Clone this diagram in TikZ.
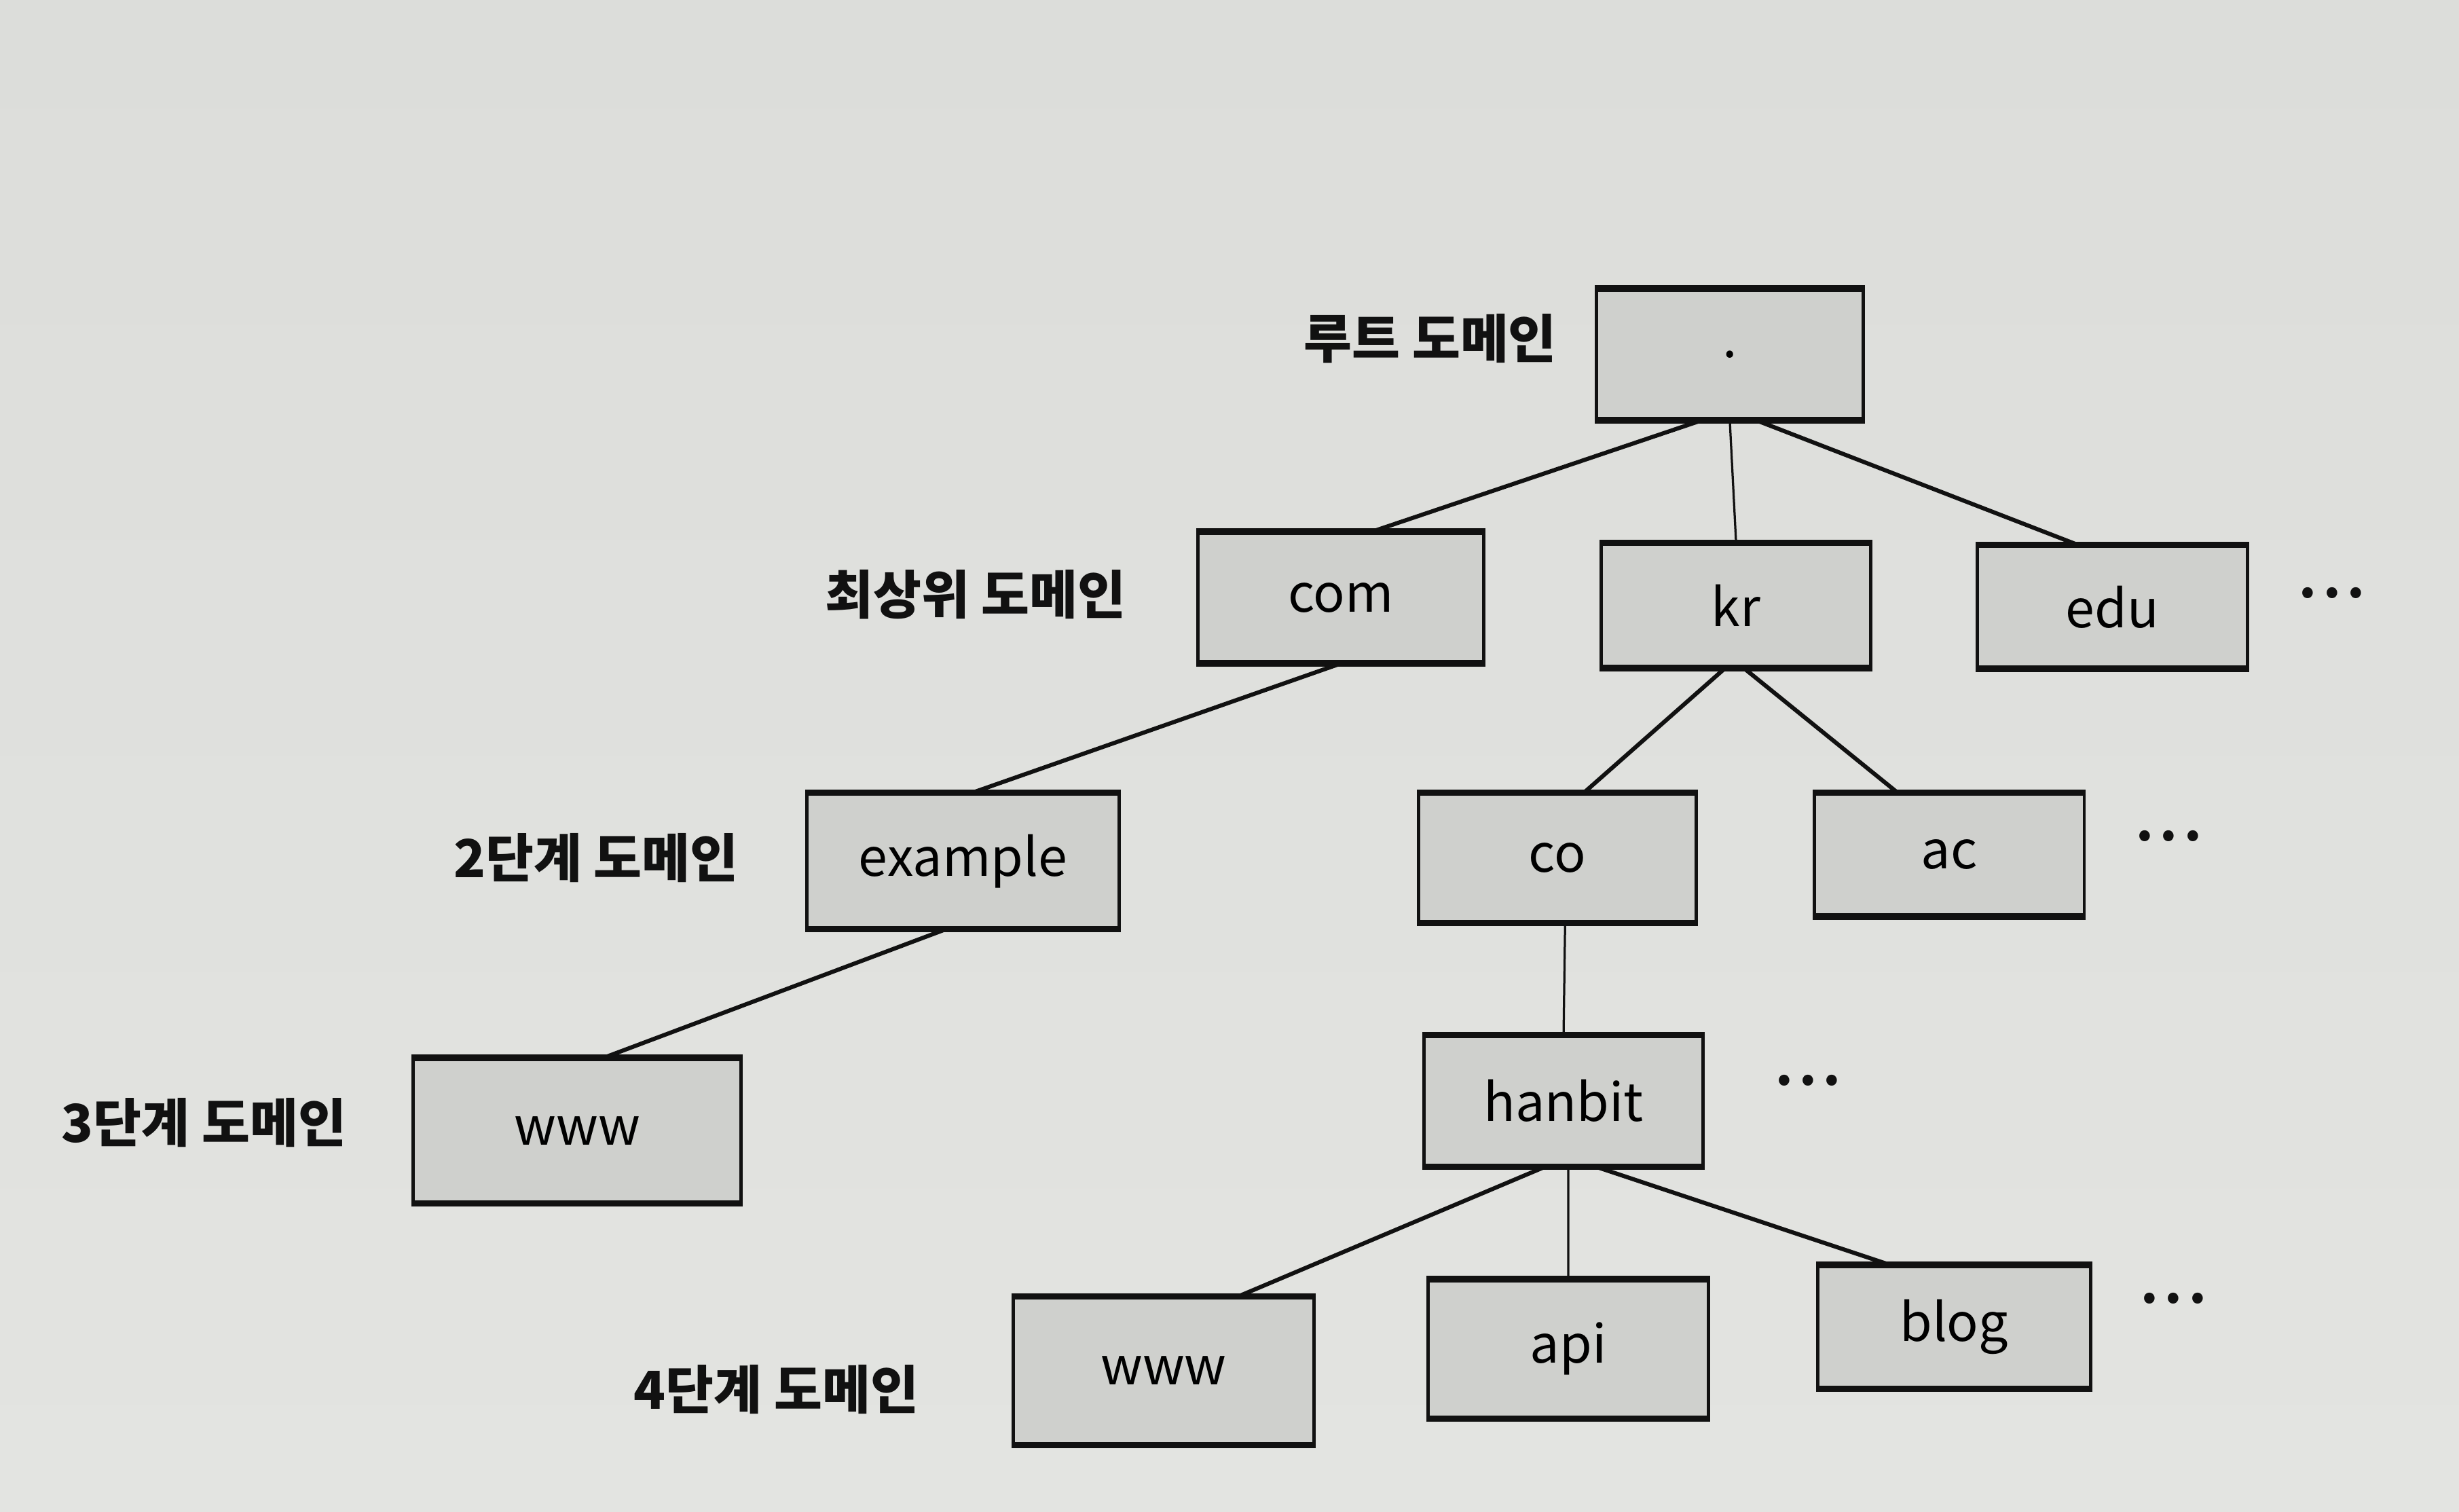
\documentclass[tikz,border=0pt]{standalone}
\usepackage{fontspec}
\setmainfont{Noto Sans CJK KR}
\usepackage{xcolor}
\definecolor{cPaper}{HTML}{E3E4E1}
\definecolor{cPaperTop}{HTML}{DCDDDA}
\definecolor{cBox}{HTML}{CFD0CD}
\definecolor{cInk}{HTML}{111111}
\usetikzlibrary{positioning,calc}
\tikzset{
  node-box/.style={draw=cInk,line width=0.6pt,fill=cBox,inner sep=0pt,
    align=center,font=\fontsize{9.5}{11}\selectfont},
  node-level/.style={font=\fontsize{9.5}{11}\selectfont\bfseries,text=cInk},
  node-more/.style={font=\fontsize{9}{11}\selectfont\bfseries,text=cInk},
  link/.style={draw=cInk,line width=0.75pt},
  link-thin/.style={draw=cInk,line width=0.4pt},
}
\newcommand{\moredots}{.\hspace{1.2pt}.\hspace{1.2pt}.}

\begin{document}
\begin{tikzpicture}
  % page
  \shade[top color=cPaperTop,bottom color=cPaper] (0,0) rectangle (15.68,9.64);
  \useasboundingbox (0,0) rectangle (15.68,9.64);

  % boxes
  \node[node-box,minimum width=17mm,minimum height=8.2mm] (root) at (11.03,7.38) {.};
  \node[node-box,minimum width=18.2mm,minimum height=8.2mm] (com) at (8.55,5.83) {com};
  \node[node-box,minimum width=17.2mm,minimum height=7.8mm] (kr) at (11.07,5.78) {kr};
  \node[node-box,minimum width=17.2mm,minimum height=7.7mm] (edu) at (13.47,5.77) {edu};
  \node[node-box,minimum width=19.9mm,minimum height=8.5mm] (example) at (6.14,4.15) {example};
  \node[node-box,minimum width=17.7mm,minimum height=8.1mm] (co) at (9.93,4.17) {co};
  \node[node-box,minimum width=17.2mm,minimum height=7.7mm] (ac) at (12.43,4.19) {ac};
  \node[node-box,minimum width=20.9mm,minimum height=9.1mm] (www3) at (3.68,2.43) {www};
  \node[node-box,minimum width=17.8mm,minimum height=8.2mm] (hanbit) at (9.97,2.62) {hanbit};
  \node[node-box,minimum width=19.2mm,minimum height=9.3mm] (www4) at (7.42,0.90) {www};
  \node[node-box,minimum width=17.9mm,minimum height=8.7mm] (api) at (10.00,1.04) {api};
  \node[node-box,minimum width=17.4mm,minimum height=7.7mm] (blog) at (12.46,1.18) {blog};

  % heavier top and bottom edges
  \foreach \n in {root,com,kr,edu,example,co,ac,www3,hanbit,www4,api,blog} {
    \draw[cInk,line width=1.1pt] (\n.north west) -- (\n.north east);
    \draw[cInk,line width=1.1pt] (\n.south west) -- (\n.south east);
  }

  % level labels
  \node[node-level] (lv0) at (9.12,7.48) {루트 도메인};
  \node[node-level] (lv1) at (6.22,5.85) {최상위 도메인};
  \node[node-level] (lv2) at (3.80,4.17) {2단계 도메인};
  \node[node-level] (lv3) at (1.30,2.48) {3단계 도메인};
  \node[node-level] (lv4) at (4.95,0.78) {4단계 도메인};

  % more
  \node[node-more] (more1) at (14.87,5.86) {\moredots};
  \node[node-more] (more2) at (13.83,4.31) {\moredots};
  \node[node-more] (more3) at (11.53,2.75) {\moredots};
  \node[node-more] (more4) at (13.86,1.36) {\moredots};

  % links
  \draw[link] ($(root.south)+(-0.18,0)$) -- ($(com.north)+(0.2,0)$);
  \draw[link-thin] (root.south) -- (kr.north);
  \draw[link] ($(root.south)+(0.17,0)$) -- ($(edu.north)+(-0.22,0)$);
  \draw[link] (com.south) -- ($(example.north)+(0.06,0)$);
  \draw[link] ($(example.south)+(-0.11,0)$) -- ($(www3.north)+(0.17,0)$);
  \draw[link] ($(kr.south)+(-0.07,0)$) -- ($(co.north)+(0.17,0)$);
  \draw[link] ($(kr.south)+(0.05,0)$) -- ($(ac.north)+(-0.33,0)$);
  \draw[link-thin] ($(co.south)+(0.05,0)$) -- (hanbit.north);
  \draw[link] ($(hanbit.south)+(-0.12,0)$) -- ($(www4.north)+(0.48,0)$);
  \draw[link-thin] ($(hanbit.south)+(0.03,0)$) -- (api.north);
  \draw[link] ($(hanbit.south)+(0.21,0)$) -- ($(blog.north)+(-0.41,0)$);
\end{tikzpicture}
\end{document}
